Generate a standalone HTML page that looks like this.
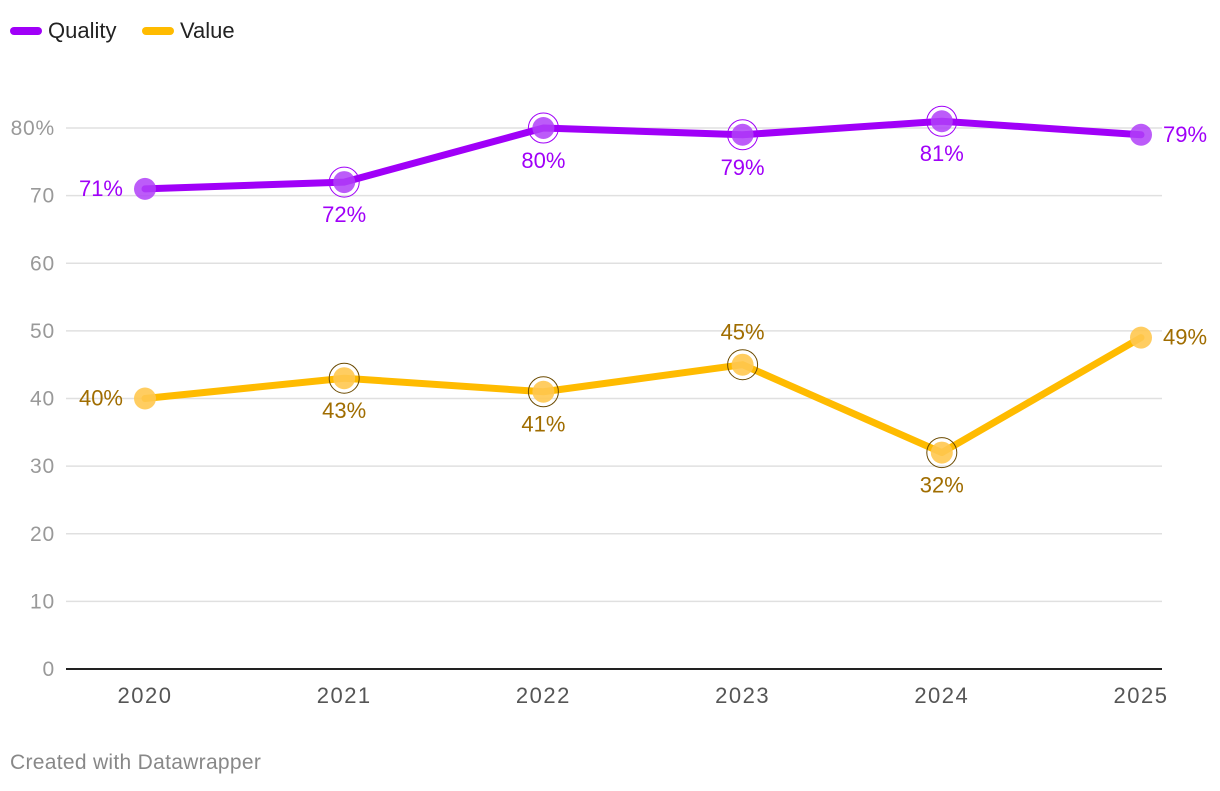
<!DOCTYPE html>
<html><head><meta charset="utf-8"><style>
body{margin:0;background:#fff;width:1220px;height:786px;overflow:hidden;font-family:"Liberation Sans",sans-serif}
svg text{font-family:"Liberation Sans",sans-serif}
</style></head><body>
<svg width="1220" height="786">
<g>
 <g><rect x="10" y="27" width="32" height="8" rx="4" fill="#a000f8"/><text x="48" y="38" font-size="22" fill="#222">Quality</text></g>
 <g><rect x="142" y="27" width="32" height="8" rx="4" fill="#ffbb00"/><text x="180" y="38" font-size="22" fill="#222">Value</text></g>
</g>
<g id="grid"></g>
<g id="xaxis"></g>
<g id="series"></g>
<text x="10" y="769" font-size="21" fill="#888" letter-spacing="0.3">Created with Datawrapper</text>
</svg>
<script>
const years=["2020","2021","2022","2023","2024","2025"];
const quality=[71,72,80,79,81,79];
const value=[40,43,41,45,32,49];
const yTicks=[0,10,20,30,40,50,60,70,80];
const qualityLabelPos=["left","below","below","below","below","right"];
const valueLabelPos=["left","below","below","above","below","right"];
const NS="http://www.w3.org/2000/svg";
const x=i=>145+i*199.2;
const y=v=>669-v*6.7625;
function mk(t,a,p){const e=document.createElementNS(NS,t);for(const k in a)e.setAttribute(k,a[k]);p.appendChild(e);return e;}
const grid=document.getElementById('grid');
yTicks.forEach(t=>{
 const l=mk('line',{x1:66,x2:1162,y1:y(t),y2:y(t),stroke:t===0?'#222':'#e0e0e0','stroke-width':t===0?2:1.5},grid);
 
 
 const tx=mk('text',{x:55,y:y(t)+7,'text-anchor':'end','font-size':21,'letter-spacing':0.8,fill:'#999'},grid);
 tx.textContent=t===80?'80%':String(t);
 
 
});
const xa=document.getElementById('xaxis');
years.forEach((yr,i)=>{
 const t=mk('text',{x:x(i),y:703,'text-anchor':'middle','font-size':22,'letter-spacing':1.5,fill:'#555'},xa);
 t.textContent=yr;
 
 
});
function series(vals,pos,color,fillc,ring,labc,name){
 const g=document.getElementById('series');
 const p=mk('polyline',{points:vals.map((v,i)=>x(i)+','+y(v)).join(' '),fill:'none',stroke:color,'stroke-width':7,'stroke-linejoin':'round','stroke-linecap':'round'},g);
 
 
 vals.forEach((v,i)=>{
  const c=mk('circle',{cx:x(i),cy:y(v),r:11,fill:fillc},g);
  
  
  if(i>0&&i<vals.length-1){mk('circle',{cx:x(i),cy:y(v),r:15,fill:'none',stroke:ring,'stroke-width':1},g);}
  let lx=x(i),ly=y(v),an='middle';
  if(pos[i]==='left'){lx-=22;ly+=7;an='end';}
  else if(pos[i]==='right'){lx+=22;ly+=7;an='start';}
  else if(pos[i]==='below'){ly+=40;}
  else {ly-=25;}
  const t=mk('text',{x:lx,y:ly,'text-anchor':an,'font-size':22,fill:labc},g);
  t.textContent=v+'%';
  
  
 });
}
series(quality,qualityLabelPos,'#a000f8','rgba(176,64,248,0.85)','#a000f8','#a000f8','quality');
series(value,valueLabelPos,'#ffbb00','rgba(255,200,80,0.9)','#6b4a00','#a06d00','value');
</script>
</body></html>
